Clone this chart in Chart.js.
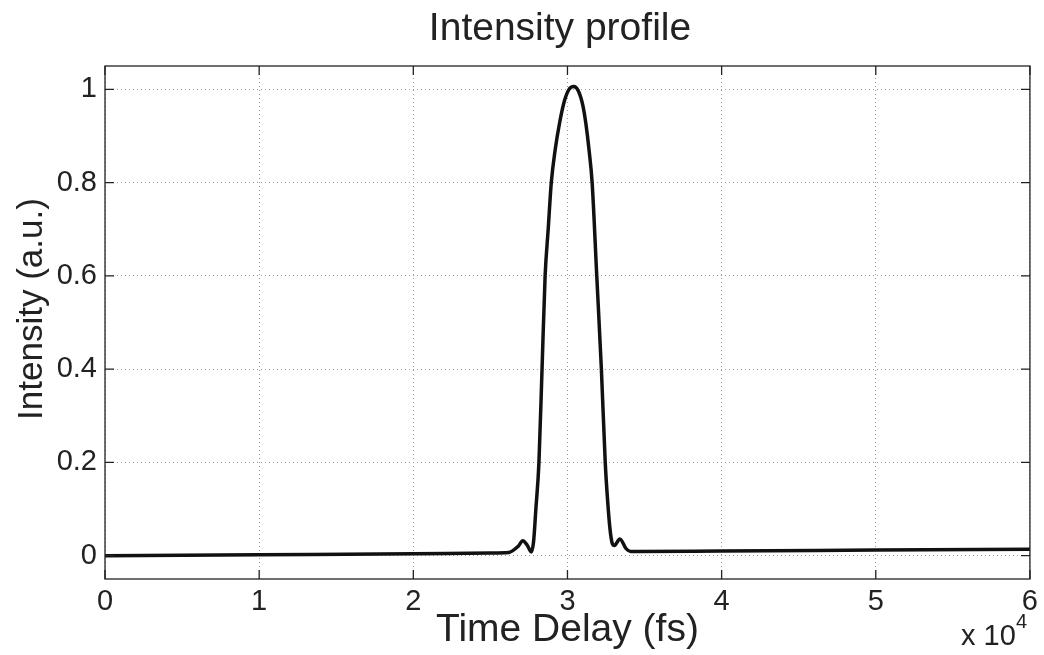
<!DOCTYPE html>
<html>
<head>
<meta charset="utf-8">
<script src="https://cdn.jsdelivr.net/npm/chart.js@4/dist/chart.umd.min.js"></script>
<style>
  html, body { margin: 0; padding: 0; background: #fff; }
  #wrap { width: 1044px; height: 655px; }
</style>
</head>
<body>
<div id="wrap"><canvas id="chart"></canvas></div>
<script>
// time delay in units of 1e4 fs
const delay = [0, 1, 2, 2.5, 2.62, 2.68, 2.71, 2.74, 2.765, 2.78, 2.795, 2.815, 2.835, 2.855, 2.875, 2.895, 2.92, 2.95, 2.98, 3.01, 3.04, 3.07, 3.10, 3.12, 3.14, 3.16, 3.19, 3.22, 3.245, 3.26, 3.275, 3.29, 3.305, 3.34, 3.38, 3.41, 3.45, 4, 5, 6];
const intensity = [0, 0.002, 0.004, 0.006, 0.007, 0.02, 0.032, 0.022, 0.008, 0.03, 0.1, 0.2, 0.4, 0.6, 0.7, 0.8, 0.87, 0.93, 0.975, 1.0, 1.006, 0.997, 0.965, 0.925, 0.87, 0.8, 0.6, 0.4, 0.2, 0.12, 0.06, 0.027, 0.022, 0.036, 0.015, 0.009, 0.009, 0.01, 0.012, 0.014];
const xTicks = [0, 1, 2, 3, 4, 5, 6];
const yTicks = [0, 0.2, 0.4, 0.6, 0.8, 1];

const FONT = "'Liberation Sans', Arial, sans-serif";

// MATLAB-like box with inward ticks, title, y label and the x10^4 multiplier
const boxPlugin = {
  id: 'box',
  afterDraw(chart) {
    const ctx = chart.ctx, a = chart.chartArea;
    const xs = chart.scales.x, ys = chart.scales.y;
    ctx.save();
    ctx.strokeStyle = '#222';
    ctx.lineWidth = 1.3;
    ctx.strokeRect(a.left, a.top, a.right - a.left, a.bottom - a.top);
    ctx.beginPath();
    xTicks.forEach(v => {
      const p = xs.getPixelForValue(v);
      ctx.moveTo(p, a.bottom); ctx.lineTo(p, a.bottom - 9);
      ctx.moveTo(p, a.top); ctx.lineTo(p, a.top + 9);
    });
    yTicks.forEach(v => {
      const p = ys.getPixelForValue(v);
      ctx.moveTo(a.left, p); ctx.lineTo(a.left + 9, p);
      ctx.moveTo(a.right, p); ctx.lineTo(a.right - 9, p);
    });
    ctx.stroke();

    ctx.fillStyle = '#222';
    ctx.textBaseline = 'alphabetic';

    // title
    ctx.textAlign = 'center';
    ctx.font = '39px ' + FONT;
    ctx.fillText('Intensity profile', 560, 40);

    // y axis label
    ctx.save();
    ctx.translate(42, 309);
    ctx.rotate(-Math.PI / 2);
    ctx.font = '35px ' + FONT;
    ctx.fillText('Intensity (a.u.)', 0, 0);
    ctx.restore();

    // exponent
    ctx.textAlign = 'left';
    ctx.font = '29px ' + FONT;
    ctx.fillText('x 10', 961, 645);
    ctx.font = '20px ' + FONT;
    ctx.fillText('4', 1016, 628);
    ctx.restore();
  }
};

new Chart(document.getElementById('chart'), {
  type: 'scatter',
  data: {
    datasets: [{
      data: delay.map((x, i) => ({ x: x, y: intensity[i] })),
      showLine: true,
      borderColor: '#111',
      borderWidth: 3.5,
      pointRadius: 0,
      cubicInterpolationMode: 'monotone',
      fill: false
    }]
  },
  options: {
    responsive: true,
    maintainAspectRatio: false,
    animation: false,
    layout: { padding: { left: 0, right: 14, top: 66, bottom: 0 } },
    plugins: {
      legend: { display: false },
      tooltip: { enabled: false },
      title: { display: false }
    },
    scales: {
      x: {
        type: 'linear',
        min: 0, max: 6,
        afterBuildTicks: s => { s.ticks = xTicks.map(v => ({ value: v })); },
        afterFit: s => { s.height = 76; },
        grid: { color: '#999', lineWidth: 1, drawTicks: false },
        border: { display: false, dash: [1, 3] },
        ticks: {
          color: '#222', padding: 6,
          font: { family: FONT, size: 29 },
          callback: v => String(v)
        },
        title: {
          display: true, text: 'Time Delay (fs)', color: '#222',
          font: { family: FONT, size: 39 }, padding: { top: 0, bottom: 1 }
        }
      },
      y: {
        type: 'linear',
        min: -0.05, max: 1.05,
        afterBuildTicks: s => { s.ticks = yTicks.map(v => ({ value: v })); },
        afterFit: s => { s.width = 105; },
        grid: { color: '#999', lineWidth: 1, drawTicks: false },
        border: { display: false, dash: [1, 3] },
        ticks: {
          color: '#222', padding: 8,
          font: { family: FONT, size: 29 },
          callback: v => String(Math.round(v * 10) / 10)
        }
      }
    }
  },
  plugins: [boxPlugin]
});
</script>
</body>
</html>
